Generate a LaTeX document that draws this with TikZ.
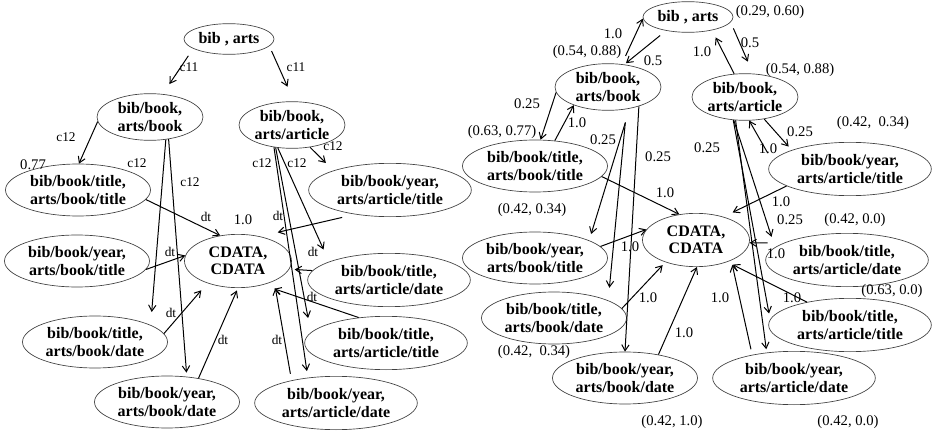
\documentclass[tikz,border=0pt]{standalone}
\usepackage{fontspec}
\setmainfont{Liberation Serif}
\usetikzlibrary{shapes.geometric,arrows.meta}

\tikzset{
  st/.style={ellipse,draw=black!75,line width=0.5pt,inner sep=-6pt,align=center,
    font=\fontsize{12}{13}\selectfont\bfseries},
  root/.style={st,minimum width=67.5pt,minimum height=23pt},
  mid/.style={st,minimum width=79.5pt,minimum height=35pt},
  wide/.style={st,minimum width=108.75pt,minimum height=39pt},
  wider/.style={st,minimum width=122pt,minimum height=40pt},
  cd/.style={st,minimum width=80.25pt,minimum height=40pt},
  lbl/.style={inner sep=0pt,font=\fontsize{11}{12}\selectfont},
  cl/.style={inner sep=0pt,font=\fontsize{10}{11}\selectfont},
  ed/.style={-{Straight Barb[length=4.5pt,width=5.5pt]},line width=0.75pt}
}

\begin{document}
\begin{tikzpicture}[x=0.75pt,y=-0.75pt]
\useasboundingbox (0,0) rectangle (933,435);
\node[root] (lRoot) at (229,39) {bib , arts};
\node[mid] (lBook) at (150,117) {bib/book,\\arts/book};
\node[mid] (lArt) at (292,125) {bib/book,\\arts/article};
\node[wide] (lTT) at (78,190) {bib/book/title,\\arts/book/title};
\node[wider] (lYAT) at (390,190) {bib/book/year,\\arts/article/title};
\node[cd] (lCD) at (238,261) {CDATA,\\CDATA};
\node[wide] (lYT) at (77,261) {bib/book/year,\\arts/book/title};
\node[wider] (lTAD) at (389,280) {bib/book/title,\\arts/article/date};
\node[wide] (lTD) at (95,342) {bib/book/title,\\arts/book/date};
\node[wider] (lTAT) at (386,343) {bib/book/title,\\arts/article/title};
\node[wide] (lYD) at (167,402) {bib/book/year,\\arts/book/date};
\node[wider] (lYAD) at (336,403) {bib/book/year,\\arts/article/date};

\draw[ed,shorten <=6.5pt,shorten >=9pt] (lRoot.195) -- (lBook.61);
\draw[ed,shorten <=4pt,shorten >=12pt] (lRoot.350) -- (lArt.85);
\draw[ed] (lBook.185) -- (lTT.88);
\draw[ed,shorten >=9.75pt] (lBook.305) -- (lTD.17);
\draw[ed,shorten >=3pt] (lBook.310) -- (lYD.52);
\draw[ed,shorten >=8pt] (lArt.309) -- (lYAT.161);
\draw[ed,shorten >=10pt] (lArt.238) -- (lTAD.163);
\draw[ed,shorten >=11pt] (lArt.234) -- (lTAT.172);
\draw[ed,shorten >=5pt] (lArt.231) -- (lYAD.138);
\draw[ed] (lTT.352) -- (lCD.125);
\draw[ed] (lYT.353) -- (lCD.174);
\draw[ed,shorten >=7pt] (lTD.7) -- (lCD.216);
\draw[ed,shorten >=2pt] (lYD.37) -- (lCD.270);
\draw[ed,shorten <=5pt,shorten >=5.5pt] (lYAD.153) -- (lCD.331);
\draw[ed,shorten >=9pt] (lTAT.137) -- (lCD.316);
\draw[ed,shorten >=4pt] (lTAD.173) -- (lCD.351);
\draw[ed,shorten <=10pt,shorten >=13.5pt] (lYAT.215) -- (lCD.48);

\foreach \x/\y/\t [count=\i] in {189/67/c11, 296/67/c11, 66/137/c12, 137/163/c12,
    190/182/c12, 262/163/c12, 297/163/c12, 333/146/c12, 206/217/dt, 278/216/dt,
    170/252/dt, 313/252/dt, 312/297/dt, 171/313/dt, 223/340/dt, 277/340/dt}
  \node[cl] (lc\i) at (\x,\y) {\t};
\node[lbl] (lw1) at (33,165) {0.77};
\node[lbl] (lw2) at (243,220) {1.0};

\node[root] (rRoot) at (688,17) {bib , arts};
\node[mid] (rBook) at (608,87) {bib/book,\\arts/book};
\node[mid] (rArt) at (745,97) {bib/book,\\arts/article};
\node[wide] (rTT) at (535,166) {bib/book/title,\\arts/book/title};
\node[wider] (rYAT) at (850,169) {bib/book/year,\\arts/article/title};
\node[cd] (rCD) at (696,240) {CDATA,\\CDATA};
\node[wide] (rYT) at (535,258) {bib/book/year,\\arts/book/title};
\node[wider] (rTAD) at (847,260) {bib/book/title,\\arts/article/date};
\node[wide] (rTD) at (554,318) {bib/book/title,\\arts/book/date};
\node[wider] (rTAT) at (850,325) {bib/book/title,\\arts/article/title};
\node[wide] (rYD) at (625,378) {bib/book/year,\\arts/book/date};
\node[wider] (rYAD) at (794,378) {bib/book/year,\\arts/article/date};

\draw[ed,shorten <=6.75pt] (rBook.59) -- (rRoot.182);
\draw[ed,shorten <=5.75pt,shorten >=1.5pt] (rRoot.212) -- (rBook.54);
\draw[ed,shorten >=6pt] (rArt.115) -- (rRoot.331);
\draw[ed,shorten <=5pt,shorten >=9.75pt] (rRoot.353) -- (rArt.71);
\draw[ed] (rBook.186) -- (rTT.78);
\draw[ed] (rTT.52) -- (rBook.208);
\draw[ed] (rTT.351) -- (rCD.123);
\draw[ed] (rBook.328) -- (rYD.90);
\draw[ed,shorten <=11pt,shorten >=5pt] (rBook.315) -- (rYT.18);
\draw[ed,shorten <=10pt,shorten >=9.5pt] (rBook.310) -- (rTD.18);
\draw[ed] (rYT.10) -- (rCD.168);
\draw[ed,shorten >=3pt] (rTD.8) -- (rCD.216);
\draw[ed] (rYD.35) -- (rCD.272);
\draw[ed,shorten <=4.25pt,shorten >=3.5pt] (rYAD.151) -- (rCD.330);
\draw[ed,shorten >=4.5pt] (rTAT.152) -- (rCD.325);
\draw[ed,shorten <=12pt] (rTAD.165) -- (rCD.357);
\draw[ed,shorten >=7.5pt] (rYAT.195) -- (rCD.40);
\draw[ed,shorten >=3.5pt] (rArt.311) -- (rYAT.162);
\draw[ed,shorten <=6.75pt] (rYAT.174) -- (rArt.280);
\draw[ed,shorten >=8.25pt] (rArt.244) -- (rTAD.170);
\draw[ed,shorten >=4.5pt] (rArt.243) -- (rTAT.176);
\draw[ed,shorten >=2.5pt] (rArt.248) -- (rYAD.137);

\foreach \x/\y/\t [count=\i] in {770/12/{(0.29, 0.60)}, 613/34/1.0,
    587/52/{(0.54, 0.88)}, 653/61/0.5, 702/52/1.0, 750/43/0.5,
    800/70/{(0.54, 0.88)}, 527/104/0.25, 502/132/{(0.63, 0.77)}, 577/123/1.0,
    603/140/0.25, 658/157/0.25, 707/148/0.25, 800/132/0.25,
    873/123/{(0.42,\ \ 0.34)}, 768/149/1.0, 665/193/1.0, 532/210/{(0.42, 0.34)},
    781/202/1.0, 790/220/0.25, 855/220/{(0.42, 0.0)}, 630/247/1.0, 776/254/1.0,
    892/291/{(0.63, 0.0)}, 648/298/1.0, 720/298/1.0, 792/298/1.0, 684/333/1.0,
    534/352/{(0.42,\ \ 0.34)}, 672/422/{(0.42, 1.0)}, 848/422/{(0.42, 0.0)}}
  \node[lbl] (rw\i) at (\x,\y) {\t};
\end{tikzpicture}
\end{document}
